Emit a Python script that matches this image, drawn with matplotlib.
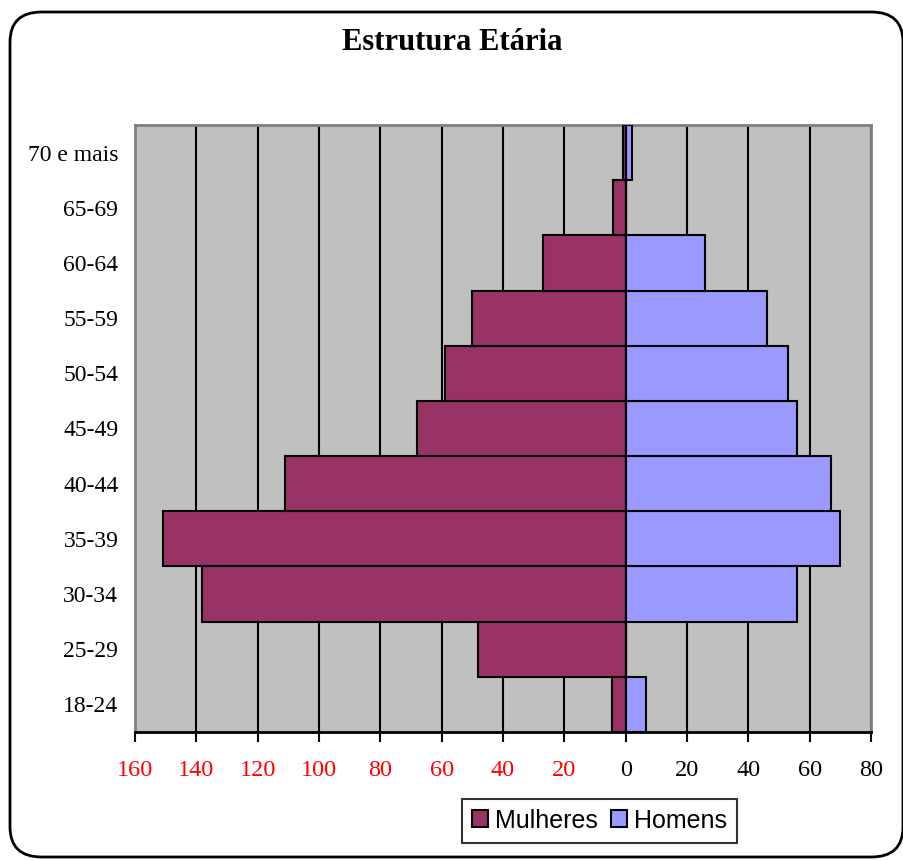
import matplotlib.pyplot as plt
import numpy as np
from matplotlib.patches import FancyBboxPatch

# age groups, bottom to top
faixas = ["18-24", "25-29", "30-34", "35-39", "40-44", "45-49",
          "50-54", "55-59", "60-64", "65-69", "70 e mais"]
mulheres = [4.5, 48, 138, 151, 111, 68, 59, 50, 27, 4, 1]
homens = [6.5, 0, 56, 70, 67, 56, 53, 46, 26, 0, 2]
xticks = [-160, -140, -120, -100, -80, -60, -40, -20, 0, 20, 40, 60, 80]

fig = plt.figure(figsize=(9.04, 8.61), dpi=100)

# rounded chart border
border = FancyBboxPatch((10 / 904, 4 / 861), 893 / 904, 845 / 861,
                        boxstyle="round,pad=0,rounding_size=0.035",
                        transform=fig.transFigure, facecolor="none",
                        edgecolor="black", linewidth=2, zorder=0)
fig.patches.append(border)

ax = fig.add_axes([135 / 904, 1 - 732 / 861, 736 / 904, 607 / 861])
ax.set_facecolor("#C0C0C0")

y = np.arange(len(faixas))
ax.barh(y, -np.array(mulheres), height=1.0, color="#993366",
        edgecolor="black", linewidth=1.5, label="Mulheres", zorder=3)
ax.barh(y, homens, height=1.0, color="#9999FF",
        edgecolor="black", linewidth=1.5, label="Homens", zorder=3)

for xv in xticks:
    ax.axvline(xv, color="black", linewidth=1.5, zorder=1)
ax.axvline(0, color="black", linewidth=1.5, zorder=4)

ax.set_xlim(-160, 80)
ax.set_ylim(-0.5, len(faixas) - 0.5)

ax.set_yticks(y)
ax.set_yticklabels(faixas, family="Liberation Serif", fontsize=17)
ax.tick_params(axis="y", length=0, pad=12)

ax.set_xticks(xticks)
ax.set_xticklabels([str(abs(v)) for v in xticks], family="Liberation Serif", fontsize=17.5)
for lab, v in zip(ax.get_xticklabels(), xticks):
    lab.set_color("red" if v < 0 else "black")
ax.tick_params(axis="x", direction="out", length=7, width=1.5, pad=13)

for side in ["top", "right", "left"]:
    ax.spines[side].set_color("#808080")
    ax.spines[side].set_linewidth(2)
ax.spines["bottom"].set_color("black")
ax.spines["bottom"].set_linewidth(2)

fig.text(0.5, 1 - 43 / 861, "Estrutura Etária", ha="center", va="center",
         family="Liberation Serif", fontsize=22, fontweight="bold")

leg = fig.legend(loc="center", bbox_to_anchor=(599.5 / 904, 1 - 820.5 / 861),
                 ncol=2, prop={"family": "Liberation Sans", "size": 18},
                 frameon=True, fancybox=False, edgecolor="black",
                 handlelength=0.65, handleheight=0.65, handletextpad=0.3,
                 columnspacing=0.5, borderpad=0.4, borderaxespad=0)
leg.get_frame().set_linewidth(1.5)

fig.savefig("out.png", dpi=100)
